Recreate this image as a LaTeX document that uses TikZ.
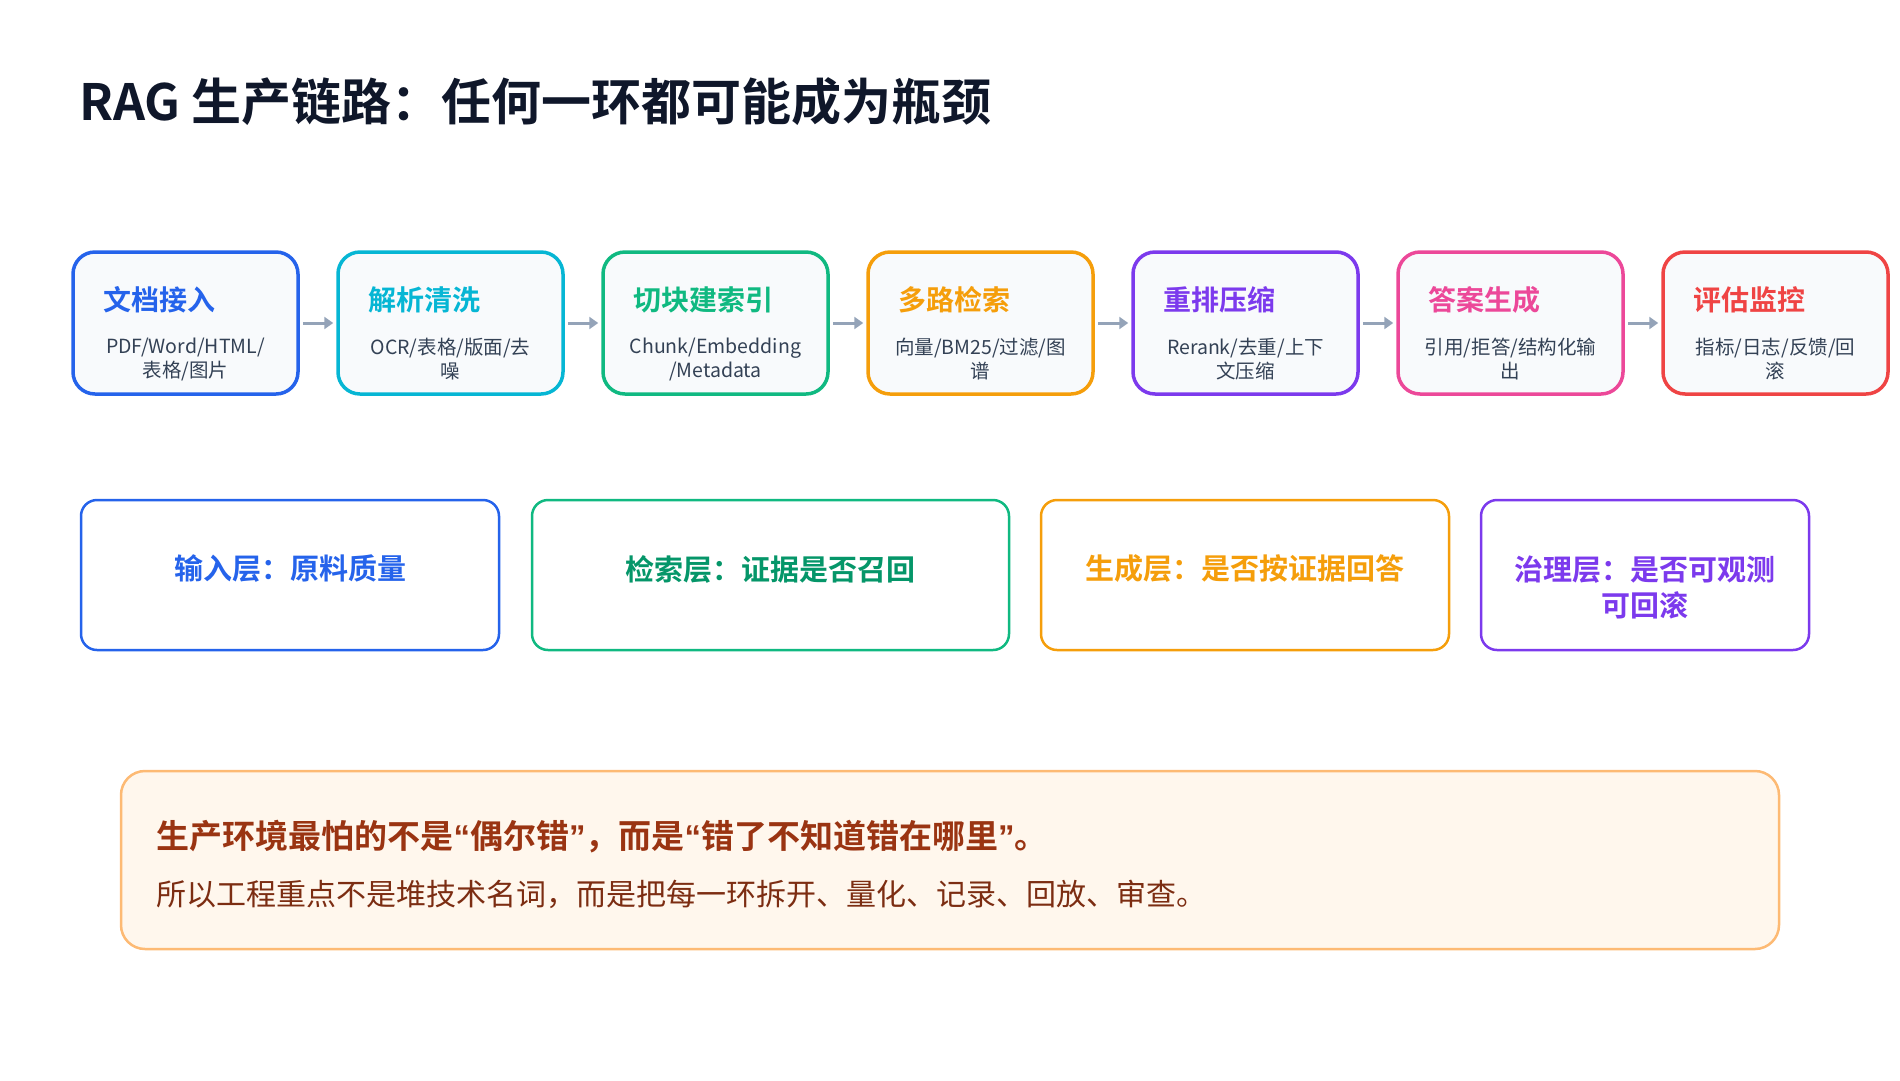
\documentclass[tikz,border=0pt]{standalone}
\usepackage{fontspec}
\setmainfont{Noto Sans CJK SC}
\newfontfamily\cjkb{Noto Sans CJK SC Bold}
\newfontfamily\latb{Liberation Sans}
\newcommand{\fc}{\makebox[1em][c]{：}}
\usetikzlibrary{arrows.meta}
\definecolor{cblue}{HTML}{2563EB}\definecolor{ccyan}{HTML}{06B6D4}
\definecolor{cgreen}{HTML}{10B981}\definecolor{corange}{HTML}{F59E0B}
\definecolor{cpurple}{HTML}{7C3AED}\definecolor{cpink}{HTML}{EC4899}
\definecolor{cred}{HTML}{EF4444}\definecolor{boxfill}{HTML}{F8FAFC}
\definecolor{subtxt}{HTML}{334155}\definecolor{ttl}{HTML}{0F172A}
\definecolor{gdark}{HTML}{059669}\definecolor{arr}{HTML}{94A3B8}
\definecolor{nfill}{HTML}{FFF7ED}\definecolor{nbord}{HTML}{FDBA74}
\definecolor{n1}{HTML}{9A3412}\definecolor{n2}{HTML}{7C2D12}
\begin{document}
\begin{tikzpicture}[x=1pt,y=-1pt,
 step/.style={draw=#1,line width=3.5pt,rounded corners=22pt,fill=boxfill,minimum width=225pt,minimum height=142pt,inner sep=0pt},
 stitle/.style={anchor=west,font=\cjkb\fontsize{28}{30}\selectfont,text=#1},
 ssub/.style={align=center,font=\fontsize{19.5}{24}\selectfont,text=subtxt},
 layer/.style={draw=#1,line width=2.5pt,rounded corners=16pt,fill=white,minimum height=150pt,inner sep=0pt},
 ltext/.style={align=center,font=\cjkb\fontsize{29}{36}\selectfont,text=#1},
 con/.style={draw=arr,line width=3pt,-{Triangle[length=9pt,width=12pt]}}]
\useasboundingbox (0,0) rectangle (1900,1080);
\node[anchor=west,font=\cjkb\fontsize{50}{54}\selectfont,text=ttl] (title) at (76,102) {RAG 生产链路\fc 任何一环都可能成为瓶颈};
\foreach \i/\c/\t/\s in {0/cblue/文档接入/{PDF/Word/HTML/\\表格/图片},1/ccyan/解析清洗/{OCR/表格/版面/去\\噪},2/cgreen/切块建索引/{Chunk/Embedding\\/Metadata},3/corange/多路检索/{向量/BM25/过滤/图\\谱},4/cpurple/重排压缩/{Rerank/去重/上下\\文压缩},5/cpink/答案生成/{引用/拒答/结构化输\\出},6/cred/评估监控/{指标/日志/反馈/回\\滚}}{
 \node[step=\c] (s\i) at ({185.5+265*\i},323) {};
 \node[stitle=\c] (t\i) at ({100+265*\i},300) {\t};
 \node[ssub] (u\i) at ({185.5+265*\i},359) {\s};
}
\foreach \i [evaluate=\i as \j using int(\i+1)] in {0,...,5}{
 \draw[con] ([xshift=3pt]s\i.east) -- ([xshift=-3pt]s\j.west);
}
\node[layer=cblue,minimum width=418pt] (l1) at (290,575) {};
\node[ltext=cblue] at (290,569) {输入层\fc 原料质量};
\node[layer=cgreen,minimum width=477pt] (l2) at (770.5,575) {};
\node[ltext=gdark] at (770.5,569) {检索层\fc 证据是否召回};
\node[layer=corange,minimum width=408pt] (l3) at (1245,575) {};
\node[ltext=corange] at (1245,569) {生成层\fc 是否按证据回答};
\node[layer=cpurple,minimum width=328pt] (l4) at (1645,575) {};
\node[ltext=cpurple] at (1645,587) {治理层\fc 是否可观测\\可回滚};
\node[draw=nbord,line width=2.5pt,fill=nfill,rounded corners=24pt,minimum width=1658pt,minimum height=178pt] (note) at (950,860) {};
\node[anchor=west,font=\cjkb\fontsize{33}{36}\selectfont,text=n1] (nl1) at (153,837) {生产环境最怕的不是{\latb\bfseries “}偶尔错{\latb\bfseries ”}，而是{\latb\bfseries “}错了不知道错在哪里{\latb\bfseries ”}。};
\node[anchor=west,font=\fontsize{30}{32}\selectfont,text=n2] (nl2) at (153,894) {所以工程重点不是堆技术名词，而是把每一环拆开、量化、记录、回放、审查。};
\end{tikzpicture}
\end{document}
